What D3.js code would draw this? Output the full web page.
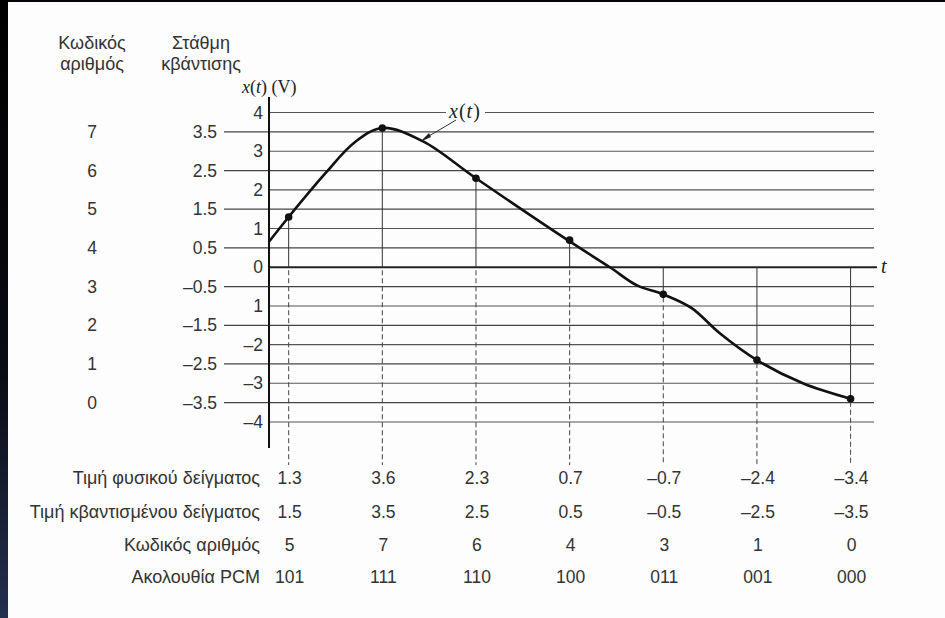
<!DOCTYPE html>
<html><head><meta charset="utf-8">
<script src="https://cdn.jsdelivr.net/npm/d3@7"></script>
<style>html,body{margin:0;padding:0;background:#fdfdfd;}svg{display:block;}</style>
</head><body>
<svg id="c" width="945" height="618"></svg>
<script>
// ---- data ----
const sampleT = [1, 2, 3, 4, 5, 6, 7];
const sampleValues = [1.3, 3.6, 2.3, 0.7, -0.7, -2.4, -3.4];
const quantizedValues = [1.5, 3.5, 2.5, 0.5, -0.5, -2.5, -3.5];
const codeNumbers = [5, 7, 6, 4, 3, 1, 0];
const pcmSequence = ["101", "111", "110", "100", "011", "001", "000"];
const curveT = [0.79, 1.0, 1.4, 1.7, 2.0, 2.43, 3.0, 3.98, 4.43, 4.72, 5.0, 5.3, 5.6, 6.0, 6.49, 7.0];
const curveV = [0.66, 1.3, 2.45, 3.22, 3.6, 3.26, 2.3, 0.7, 0.0, -0.47, -0.7, -1.05, -1.7, -2.4, -3.0, -3.4];
const levelValues = [3.5, 2.5, 1.5, 0.5, -0.5, -1.5, -2.5, -3.5];
const levelCodes = [7, 6, 5, 4, 3, 2, 1, 0];
const integerTicks = [4, 3, 2, 1, 0, -1, -2, -3, -4];
const integerTickLabels = ["4", "3", "2", "1", "0", "1", "–2", "–3", "–4"];
const levelLabels = ["3.5", "2.5", "1.5", "0.5", "–0.5", "–1.5", "–2.5", "–3.5"];
const rowLabels = ["Τιμή φυσικού δείγματος", "Τιμή κβαντισμένου δείγματος", "Κωδικός αριθμός", "Ακολουθία PCM"];
const fmt = v => (v < 0 ? "–" : "") + Math.abs(v).toFixed(1);

// ---- drawing ----
const svg = d3.select("#c");
const sans = "'Liberation Sans', Arial, sans-serif";
const serif = "'Liberation Serif', 'Times New Roman', serif";
const txt = "#333";

const defs = svg.append("defs");
const g1 = defs.append("linearGradient").attr("id", "lg").attr("x1", 0).attr("y1", 0).attr("x2", 0).attr("y2", 1);
g1.append("stop").attr("offset", "0%").attr("stop-color", "#000");
g1.append("stop").attr("offset", "60%").attr("stop-color", "#0a0c14");
g1.append("stop").attr("offset", "100%").attr("stop-color", "#243050");
svg.append("rect").attr("x", 0).attr("y", 0).attr("width", 945).attr("height", 618).attr("fill", "#fdfdfd");

const x = d3.scaleLinear().domain([0.79, 7.25]).range([269, 874]);
const y = d3.scaleLinear().domain([-4, 4]).range([422, 112.5]);

// integer grid lines
svg.append("g").selectAll("line").data(integerTicks).join("line")
  .attr("x1", x(0.79)).attr("x2", d => d === 0 ? 877 : x(7.25))
  .attr("y1", d => y(d)).attr("y2", d => y(d))
  .attr("stroke", d => d === 0 ? "#222" : "#555")
  .attr("stroke-width", d => d === 0 ? 1.8 : 1.1);

// gap in the 4-line for the curve label
svg.append("rect").attr("x", 446).attr("y", y(4) - 3).attr("width", 39).attr("height", 6).attr("fill", "#fdfdfd");

// level lines (extend to the left as ticks)
svg.append("g").selectAll("line").data(levelValues).join("line")
  .attr("x1", 224).attr("x2", x(7.25))
  .attr("y1", d => y(d)).attr("y2", d => y(d))
  .attr("stroke", "#444").attr("stroke-width", 1.2);

// axis
svg.append("line").attr("x1", 269).attr("x2", 269).attr("y1", 97).attr("y2", 448)
  .attr("stroke", "#111").attr("stroke-width", 2);

// integer tick labels
svg.append("g").selectAll("text").data(integerTicks).join("text")
  .attr("x", 263).attr("y", d => y(d) + 6)
  .attr("text-anchor", "end").attr("font-family", sans).attr("font-size", 17.5).attr("fill", txt)
  .text((d, i) => integerTickLabels[i]);

// level labels
svg.append("g").selectAll("text").data(levelValues).join("text")
  .attr("x", 217).attr("y", d => y(d) + 6)
  .attr("text-anchor", "end").attr("font-family", sans).attr("font-size", 17.5).attr("fill", txt)
  .text((d, i) => levelLabels[i]);

// level codes
svg.append("g").selectAll("text").data(levelValues).join("text")
  .attr("x", 92).attr("y", d => y(d) + 6)
  .attr("text-anchor", "middle").attr("font-family", sans).attr("font-size", 17.5).attr("fill", txt)
  .text((d, i) => levelCodes[i]);

// headers
const hdr = [["Κωδικός", 92, 49], ["αριθμός", 92, 70], ["Στάθμη", 201, 49], ["κβάντισης", 201, 70]];
svg.append("g").selectAll("text").data(hdr).join("text")
  .attr("x", d => d[1]).attr("y", d => d[2]).attr("text-anchor", "middle")
  .attr("font-family", sans).attr("font-size", 18).attr("fill", txt).text(d => d[0]);

// axis title
const at = svg.append("text").attr("x", 242).attr("y", 93).attr("font-family", serif).attr("font-size", 18).attr("fill", "#222");
at.append("tspan").attr("font-style", "italic").text("x");
at.append("tspan").text("(");
at.append("tspan").attr("font-style", "italic").text("t");
at.append("tspan").text(") (V)");

// t label
svg.append("text").attr("x", 881).attr("y", y(0) + 6).attr("font-family", serif).attr("font-style", "italic")
  .attr("font-size", 20).attr("fill", "#222").text("t");

// vertical sample lines (solid between zero and sample)
svg.append("g").selectAll("line").data(sampleT).join("line")
  .attr("x1", d => x(d)).attr("x2", d => x(d))
  .attr("y1", y(0)).attr("y2", (d, i) => y(sampleValues[i]))
  .attr("stroke", "#333").attr("stroke-width", 1);
// dashed below
svg.append("g").selectAll("line").data(sampleT).join("line")
  .attr("x1", d => x(d)).attr("x2", d => x(d))
  .attr("y1", (d, i) => Math.max(y(0), y(sampleValues[i])) + 3).attr("y2", 465)
  .attr("stroke", "#444").attr("stroke-width", 1).attr("stroke-dasharray", "5,3");

// curve
const pts = curveT.map((t, i) => [t, curveV[i]]);
svg.append("path").datum(pts)
  .attr("d", d3.line().x(d => x(d[0])).y(d => y(d[1])).curve(d3.curveCatmullRom.alpha(0.5)))
  .attr("fill", "none").attr("stroke", "#111").attr("stroke-width", 2.6);

// sample dots
svg.append("g").selectAll("circle").data(sampleT).join("circle")
  .attr("cx", d => x(d)).attr("cy", (d, i) => y(sampleValues[i])).attr("r", 3.8).attr("fill", "#111");

// x(t) label + arrow
const xl = svg.append("text").attr("x", 449).attr("y", 118).attr("font-family", serif).attr("font-size", 20)
  .attr("font-style", "italic").attr("fill", "#222").attr("letter-spacing", 1);
xl.append("tspan").text("x");
xl.append("tspan").attr("font-style", "normal").text("(");
xl.append("tspan").text("t");
xl.append("tspan").attr("font-style", "normal").text(")");
svg.append("line").attr("x1", 456).attr("y1", 120).attr("x2", 424).attr("y2", 139)
  .attr("stroke", "#333").attr("stroke-width", 1);
svg.append("path").attr("d", "M420,142 L429,133 L431,137 Z").attr("fill", "#222");

// table
const rows = [sampleValues.map(fmt), quantizedValues.map(fmt), codeNumbers.map(String), pcmSequence];
const rowY = [484, 518, 551, 583];
rowLabels.forEach((lab, r) => {
  svg.append("text").attr("x", 260).attr("y", rowY[r]).attr("text-anchor", "end")
    .attr("font-family", sans).attr("font-size", 18).attr("fill", txt).text(lab);
  svg.append("g").selectAll("text").data(sampleT).join("text")
    .attr("x", d => x(d) + 1).attr("y", rowY[r]).attr("text-anchor", "middle")
    .attr("font-family", sans).attr("font-size", 17.5).attr("fill", txt)
    .text((d, i) => rows[r][i]);
});

// dark frame edges
svg.append("rect").attr("x", 0).attr("y", 0).attr("width", 945).attr("height", 2).attr("fill", "#05060a");
svg.append("rect").attr("x", 0).attr("y", 0).attr("width", 8).attr("height", 618).attr("fill", "url(#lg)");
</script>
</body></html>
